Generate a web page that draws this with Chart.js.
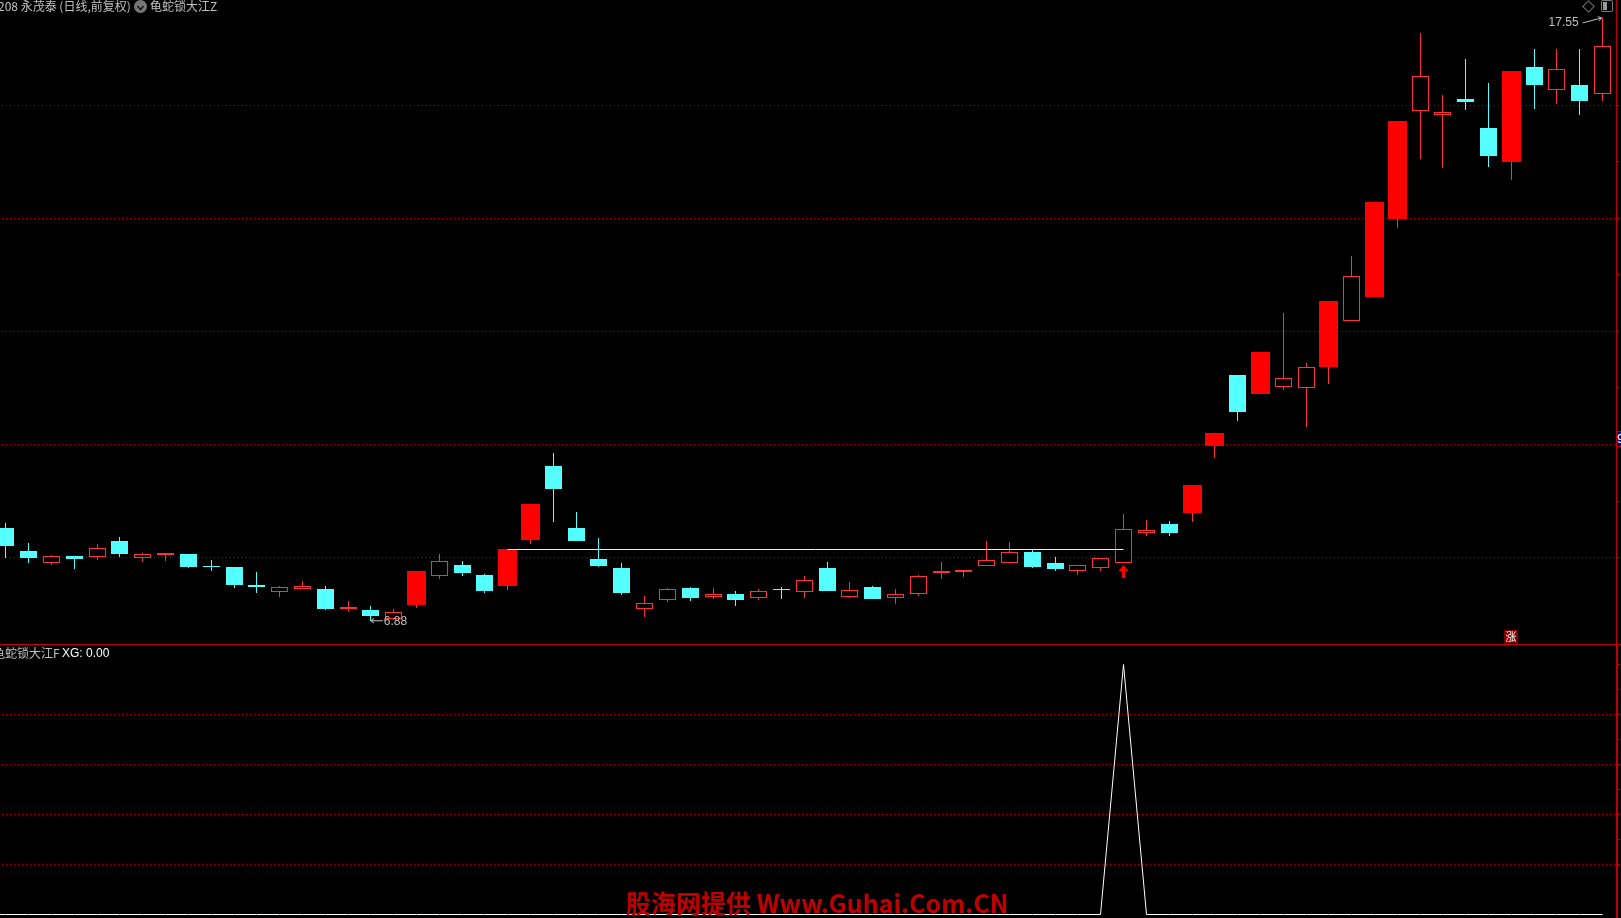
<!DOCTYPE html>
<html>
<head>
<meta charset="utf-8">
<title>永茂泰</title>
<script src="https://cdn.jsdelivr.net/npm/chart.js@4/dist/chart.umd.min.js"></script>
<style>
	html, body { margin: 0; padding: 0; background: #000; width: 1621px; height: 918px; overflow: hidden; }
	canvas { position: absolute; left: 0; }
	#priceChart { top: 0; }
	#xgChart { top: 645px; }
	.label { position: absolute; white-space: nowrap; font: 12px/12px "Noto Sans CJK SC", "Liberation Sans", sans-serif; color: #c0c0c0; }
	#divider { position: absolute; left: 0; top: 644px; width: 1621px; height: 1px; background: #c00000; }
	#chevron { position: absolute; left: 134px; top: 0; width: 13px; height: 13px; border-radius: 7px; background: #777; }
	#diamond { position: absolute; left: 1584px; top: 2px; width: 7px; height: 7px; border: 1px solid #777; transform: rotate(45deg); }
	#panelBtn { position: absolute; left: 1601px; top: 0; width: 10px; height: 10px; border: 1px solid #777; border-radius: 2px; }
	#panelBtn div { width: 4px; height: 8px; margin: 1px; background: #999; }
	#rise { left: 1504px; top: 630px; width: 14px; height: 13px; line-height: 13px; font-size: 11px; text-align: center; color: #fff; background: #800000; }
	#priceTag { left: 1617px; top: 431px; width: 4px; height: 14px; line-height: 14px; overflow: hidden; color: #fff; background: #00007f; border-top: 1px solid #c00000; border-bottom: 1px solid #c00000; font-family: "Liberation Sans"; }
	#watermark { left: 626px; top: 888px; font: bold 25px/28px "Noto Sans CJK SC", sans-serif; color: #c00000; }
</style>
</head>
<body>
<canvas id="priceChart" width="1621" height="644"></canvas>
<div id="divider"></div>
<canvas id="xgChart" width="1621" height="273"></canvas>

<div class="label" style="left:-2px;top:0">208 永茂泰 (日线,前复权)</div>
<div id="chevron"><svg width="13" height="13"><path d="M3.5 5 L6.5 8.5 L9.5 5" fill="none" stroke="#111" stroke-width="1.5"/></svg></div>
<div class="label" style="left:150px;top:0">龟蛇锁大江Z</div>
<div id="diamond"></div>
<div id="panelBtn"><div></div></div>
<div class="label" style="left:-7px;top:647px">龟蛇锁大江F</div>
<div class="label" style="left:62px;top:647px;color:#fff;font-family:'Liberation Sans'">XG: 0.00</div>
<div class="label" id="rise">涨</div>
<div class="label" id="priceTag">9</div>
<div class="label" id="watermark">股海网提供 Www.Guhai.Com.CN</div>

<script>
const opens = [
	8.52, 8.11, 7.91, 8.02, 8.01, 8.29, 7.99, 8.04, 8.06, 7.85,
	7.83, 7.51, 7.39, 7.44, 7.44, 7.09, 7.07, 6.92, 7.16, 7.68,
	7.86, 7.69, 7.49, 8.31, 9.62, 8.52, 7.97, 7.81, 7.09, 7.25,
	7.46, 7.30, 7.35, 7.29, 7.44, 7.39, 7.81, 7.30, 7.47, 7.29,
	7.36, 7.72, 7.74, 7.85, 7.91, 8.09, 7.90, 7.76, 7.82, 7.91,
	8.44, 8.59, 8.78, 9.97, 11.23, 10.89, 11.02, 11.00, 11.37, 12.18,
	12.61, 13.99, 15.91, 15.83, 16.11, 15.60, 15.00, 16.68, 16.28, 16.36,
	16.21
];
const closes = [
	8.20, 7.99, 8.02, 7.97, 8.16, 8.06, 8.07, 8.08, 7.83, 7.83,
	7.51, 7.47, 7.47, 7.49, 7.09, 7.13, 6.96, 7.04, 7.76, 7.93,
	7.72, 7.40, 8.15, 8.94, 9.21, 8.29, 7.85, 7.37, 7.20, 7.45,
	7.28, 7.35, 7.24, 7.40, 7.42, 7.61, 7.40, 7.43, 7.26, 7.36,
	7.68, 7.76, 7.78, 7.96, 8.09, 7.83, 7.79, 7.86, 8.00, 8.51,
	8.49, 8.43, 9.28, 10.20, 10.57, 11.63, 11.17, 11.38, 12.54, 12.99,
	14.29, 15.72, 16.53, 15.88, 16.06, 15.10, 16.61, 16.36, 16.64, 16.08,
	17.06
];
const highs = [
	8.61, 8.25, 8.04, 8.02, 8.24, 8.36, 8.08, 8.08, 8.06, 7.95,
	7.83, 7.74, 7.49, 7.58, 7.49, 7.23, 7.14, 7.09, 7.76, 8.06,
	7.93, 7.70, 8.15, 8.94, 9.85, 8.80, 8.34, 7.90, 7.32, 7.46,
	7.47, 7.46, 7.40, 7.44, 7.47, 7.67, 7.92, 7.56, 7.49, 7.44,
	7.69, 7.92, 7.78, 8.29, 8.27, 8.13, 8.01, 7.86, 8.00, 8.77,
	8.66, 8.64, 9.28, 10.20, 11.23, 11.63, 12.32, 11.44, 12.54, 13.33,
	14.29, 15.72, 17.28, 16.18, 16.82, 16.40, 16.61, 17.00, 17.00, 17.00,
	17.55
];
const lows = [
	7.99, 7.90, 7.86, 7.79, 7.95, 8.01, 7.92, 7.93, 7.81, 7.76,
	7.46, 7.37, 7.30, 7.44, 7.07, 7.03, 6.88, 6.90, 7.10, 7.62,
	7.67, 7.37, 7.42, 8.24, 8.62, 8.29, 7.83, 7.33, 6.94, 7.21,
	7.23, 7.26, 7.14, 7.24, 7.26, 7.28, 7.40, 7.28, 7.26, 7.17,
	7.32, 7.62, 7.65, 7.85, 7.91, 7.81, 7.76, 7.69, 7.76, 7.91,
	8.38, 8.38, 8.62, 9.76, 10.41, 10.89, 10.96, 10.31, 11.07, 12.18,
	12.61, 13.83, 15.05, 14.89, 15.92, 14.91, 14.68, 15.93, 16.02, 15.83,
	16.08
];
// days drawn as a filled red body
const solidDays = [18, 22, 23, 52, 53, 55, 58, 60, 61, 66];

const supportFrom = 22;
const supportTo = 49;
const supportPrice = 8.14;
const signalDay = 49;
const signalPrice = 7.76;

const priceTicks = [8, 9, 10, 11, 12, 13, 14, 15, 16];
const xgTicks = [0.2, 0.3, 0.4, 0.5, 0.6, 0.7, 0.8, 0.9, 1];

// first value is the off-screen day left of the first candle
const xgValues = [
	0, 0, 0, 0, 0, 0, 0, 0, 0, 0, 0, 0,
	0, 0, 0, 0, 0, 0, 0, 0, 0, 0, 0, 0,
	0, 0, 0, 0, 0, 0, 0, 0, 0, 0, 0, 0,
	0, 0, 0, 0, 0, 0, 0, 0, 0, 0, 0, 0,
	0, 0, 1, 0, 0, 0, 0, 0, 0, 0, 0, 0,
	0, 0, 0, 0, 0, 0, 0, 0, 0, 0, 0, 0
];

const RED = '#ff3232';
const SOLID_RED = '#ff0000';
const CYAN = '#54ffff';
const GRID = '#b00000';
const AXIS = '#c00000';
const TEXT = '#c0c0c0';

const SPACING = 22.81;
const FIRST_X = 5.9;

var days = opens.map((v, i) => i);
var isDown = i => closes[i] < opens[i];
var isSolid = i => solidDays.indexOf(i) >= 0;

function bodyData(filter) {
	return days.filter(filter).map(i => ({ x: i, y: [Math.min(opens[i], closes[i]), Math.max(opens[i], closes[i])] }));
}

function wickData(filter) {
	return days.filter(filter).map(i => ({ x: i, y: [lows[i], highs[i]] }));
}

function arrowImage() {
	const c = document.createElement('canvas');
	c.width = 11;
	c.height = 13;
	const g = c.getContext('2d');
	g.fillStyle = SOLID_RED;
	g.beginPath();
	g.moveTo(5.5, 0);
	g.lineTo(10.5, 6);
	g.lineTo(0.5, 6);
	g.closePath();
	g.fill();
	g.fillRect(4, 5, 3, 8);
	return c;
}

// snap bars and points to whole pixels so the marks stay crisp
const snapPlugin = {
	id: 'snap',
	beforeDatasetsDraw(chart) {
		chart.data.datasets.forEach((ds, k) => {
			chart.getDatasetMeta(k).data.forEach(el => {
				el.x = Math.floor(el.x) + 0.5;
				if (el.base !== undefined) {
					el.y = Math.round(el.y);
					el.base = Math.round(el.base);
				} else {
					el.y = Math.floor(el.y) + 0.5;
				}
			});
		});
	}
};

function priceNote(g, text, textX, textY, fromX, fromY, toX, toY) {
	g.fillStyle = TEXT;
	g.strokeStyle = TEXT;
	g.lineWidth = 1;
	g.font = '12px "Liberation Sans"';
	g.textBaseline = 'middle';
	g.fillText(text, textX, textY);
	const a = Math.atan2(toY - fromY, toX - fromX);
	g.beginPath();
	g.moveTo(fromX, fromY);
	g.lineTo(toX, toY);
	g.moveTo(toX - 4 * Math.cos(a - 0.6), toY - 4 * Math.sin(a - 0.6));
	g.lineTo(toX, toY);
	g.lineTo(toX - 4 * Math.cos(a + 0.6), toY - 4 * Math.sin(a + 0.6));
	g.stroke();
}

const notesPlugin = {
	id: 'notes',
	afterDraw(chart) {
		const g = chart.ctx;
		const x = chart.scales.x;
		const y = chart.scales.y;
		const lowDay = lows.indexOf(Math.min.apply(null, lows));
		const highDay = highs.indexOf(Math.max.apply(null, highs));
		const lowX = x.getPixelForValue(lowDay);
		const lowY = y.getPixelForValue(lows[lowDay]);
		const highX = x.getPixelForValue(highDay);
		const highY = y.getPixelForValue(highs[highDay]);
		g.save();
		priceNote(g, lows[lowDay].toFixed(2), lowX + 13, lowY + 1, lowX + 12, lowY, lowX, lowY);
		priceNote(g, highs[highDay].toFixed(2), highX - 54, highY + 5, highX - 20, highY + 5, highX - 1, highY);
		g.restore();
	}
};

function barSet(data, color, width, fill, order) {
	return {
		data: data,
		grouped: false,
		barThickness: width,
		inflateAmount: 0,
		backgroundColor: fill,
		borderColor: color,
		borderWidth: fill === color ? 0 : 1,
		borderSkipped: false,
		order: order,
	};
}

var priceConfig = {
	type: 'bar',
	data: {
		datasets: [
			{
				type: 'line',
				data: [{ x: supportFrom, y: supportPrice }, { x: supportTo, y: supportPrice }],
				borderColor: '#ffff54',
				borderWidth: 1,
				pointRadius: 0,
				order: 0,
			},
			{
				type: 'line',
				data: [{ x: signalDay, y: signalPrice }],
				showLine: false,
				pointStyle: arrowImage(),
				order: 0,
			},
			barSet(bodyData(i => isDown(i)), CYAN, 17, CYAN, 1),
			barSet(bodyData(i => !isDown(i) && isSolid(i)), SOLID_RED, 19, SOLID_RED, 1),
			barSet(bodyData(i => !isDown(i) && !isSolid(i)), RED, 17, '#000', 1),
			barSet(wickData(i => isDown(i)), CYAN, 1, CYAN, 2),
			barSet(wickData(i => !isDown(i)), RED, 1, RED, 2),
		]
	},
	options: {
		responsive: false,
		devicePixelRatio: 1,
		animation: false,
		events: [],
		layout: { autoPadding: false, padding: { left: 0, top: 0, bottom: 0, right: 2 } },
		plugins: { legend: { display: false }, tooltip: { enabled: false } },
		scales: {
			x: { type: 'linear', display: false, offset: false, min: -FIRST_X / SPACING, max: (1616 - FIRST_X) / SPACING },
			y: {
				position: 'right',
				min: 8 - 86.5 / 56.5,
				max: 8 + 557.5 / 56.5,
				afterBuildTicks: scale => { scale.ticks = priceTicks.map(v => ({ value: v })); },
				ticks: { display: false },
				border: { color: AXIS, width: 1, dash: [1, 3], dashOffset: 2 },
				grid: {
					color: c => c.tick && c.tick.value % 2 === 0 ? GRID : 'transparent',
					tickColor: AXIS,
					tickLength: 3,
				},
			}
		}
	},
	plugins: [snapPlugin, notesPlugin]
};

var xgConfig = {
	type: 'line',
	data: {
		datasets: [{
			data: xgValues.map((v, i) => ({ x: i - 1, y: v })),
			borderColor: '#fff',
			borderWidth: 1,
			pointRadius: 0,
			tension: 0,
		}]
	},
	options: {
		responsive: false,
		devicePixelRatio: 1,
		animation: false,
		events: [],
		layout: { autoPadding: false, padding: { left: 0, top: 0, bottom: 0, right: 1 } },
		plugins: { legend: { display: false }, tooltip: { enabled: false } },
		scales: {
			x: { type: 'linear', display: false, min: -FIRST_X / SPACING, max: (1617 - FIRST_X) / SPACING },
			y: {
				position: 'right',
				min: -3.5 / 250,
				max: 269.5 / 250,
				afterBuildTicks: scale => { scale.ticks = xgTicks.map(v => ({ value: v })); },
				ticks: { display: false },
				border: { color: AXIS, width: 2, dash: [1, 3], dashOffset: 2 },
				grid: {
					color: c => c.tick && Math.round(c.tick.value * 10) % 2 === 0 && c.tick.value < 1 ? GRID : 'transparent',
					tickColor: AXIS,
					tickLength: 3,
				},
			}
		}
	},
	plugins: [snapPlugin]
};

const priceChart = new Chart(document.getElementById('priceChart'), priceConfig);
const xgChart = new Chart(document.getElementById('xgChart'), xgConfig);
</script>
</body>
</html>
